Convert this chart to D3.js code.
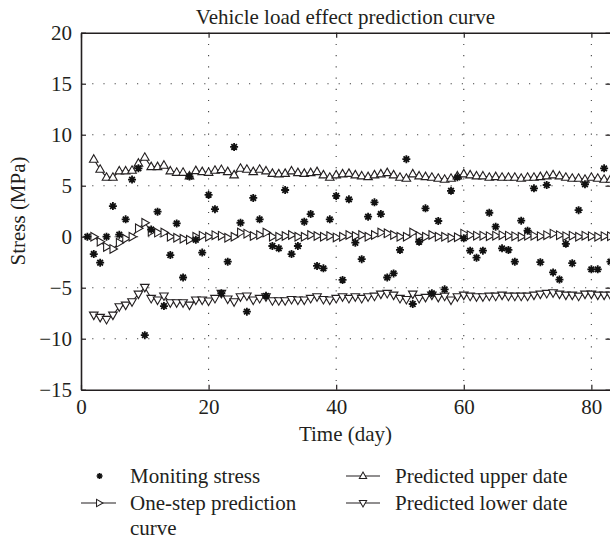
<!DOCTYPE html>
<html><head><meta charset="utf-8">
<script src="https://cdn.jsdelivr.net/npm/d3@7"></script>
<style>
html,body{margin:0;padding:0;background:#fff;}
svg{display:block;}
text{font-family:"Liberation Serif","Times New Roman",serif;fill:#231f20;}
</style></head>
<body>
<svg id="chart" width="610" height="541"></svg>
<script>
// ---- data ----
const stressStartDay = 1;
const predStartDay = 2;
const xTicks = [0, 20, 40, 60, 80];
const yTicks = [-15, -10, -5, 0, 5, 10, 15, 20];
const stress = [0.0,-1.7,-2.55,0.0,3.0,0.2,1.7,5.6,6.7,-9.65,0.7,2.45,-6.8,-1.8,1.3,-4.0,5.9,-0.3,-1.56,4.1,
  2.7,-5.55,-2.45,8.8,1.37,-7.35,3.8,1.7,-5.8,-0.91,-1.14,4.58,-1.7,-0.91,1.47,2.22,-2.87,-3.1,1.7,4.0,
  -4.24,3.66,-0.59,-2.2,1.96,3.37,2.22,-4.0,-3.6,-1.3,7.6,-6.6,-0.5,2.78,-5.55,1.54,-5.16,4.5,5.82,-0.16,
  -1.37,-2.06,-1.37,2.35,0.98,-1.14,-1.3,-2.45,1.57,0.59,4.74,-2.5,5.07,-3.5,-4.2,-0.7,-2.6,2.6,5.14,-3.2,
  -3.2,6.7,-2.45];
const upper = [7.59,6.6,5.82,5.82,6.44,6.44,6.5,7.2,7.78,6.86,6.86,7.0,6.44,6.3,6.3,5.95,6.47,6.37,6.3,6.5,
  6.57,6.37,6.05,6.7,6.6,6.37,6.6,6.44,6.2,6.15,6.2,6.44,6.27,6.2,6.27,6.37,6.05,5.82,6.05,6.15,
  6.2,6.05,5.95,5.88,6.05,6.15,6.27,6.05,5.82,5.72,6.15,5.95,5.88,5.82,5.72,5.62,5.72,5.95,6.15,6.05,
  5.95,5.95,5.82,5.88,5.82,5.82,5.82,5.72,5.82,5.82,5.88,5.95,6.05,5.95,5.82,5.72,5.72,5.62,5.82,5.72,
  5.62,5.62];
const oneStep = [0,-0.5,-1.0,-1.2,-0.6,-0.2,0.0,0.82,1.37,0.5,0.4,0.4,0.0,-0.1,-0.2,-0.3,0,0.1,0,0.15,
  0.1,-0.1,0,0.4,0.3,0.07,0.17,0.4,0,0,0.07,0.17,0,0,0.17,0.07,0,0.07,-0.07,0,
  0.17,0.07,0.17,0,0.17,0.4,0.33,0.17,0,0,0.4,0.07,0,0.17,0,0,-0.1,-0.05,0.3,0.15,
  0.1,0.1,0.05,0.1,0.15,0.1,0.05,0,0.1,0.1,0.05,0.15,0.3,0.15,0.05,0.1,0,0.1,0.05,0,
  0.05,0.05];
const lower = [-7.68,-7.9,-8.1,-7.68,-6.86,-6.7,-6.37,-5.62,-4.96,-6.04,-6.2,-5.8,-6.47,-6.47,-6.47,-6.7,-6.2,-6.2,-6.3,-6.04,
  -5.55,-6.1,-6.37,-5.88,-5.8,-6.2,-6.04,-5.88,-6.27,-6.27,-6.27,-6.14,-6.2,-6.2,-6.04,-5.88,-6.14,-6.2,-6.04,-5.88,
  -6.04,-5.88,-6.04,-5.88,-5.82,-5.62,-5.55,-5.72,-6.04,-6.14,-5.62,-6.04,-5.94,-5.72,-5.94,-5.82,-6.2,-5.88,-5.72,-5.82,
  -5.88,-5.88,-5.82,-5.82,-5.72,-5.82,-5.82,-5.82,-5.82,-5.72,-5.62,-5.55,-5.49,-5.62,-5.72,-5.72,-5.82,-5.62,-5.62,-5.72,
  -5.72,-5.72];
const legendLabels = ["Moniting stress","One-step prediction","curve","Predicted upper date","Predicted lower date"];

// ---- layout ----
const FS = "21px";
const svg = d3.select("#chart");
const L = 81, R = 610.5, T = 32.7, B = 389.7;
const x = d3.scaleLinear().domain([0, 83]).range([L, R]);
const y = d3.scaleLinear().domain([-15, 20]).range([B, T]);
const ink = "#231f20";

const toPts = (arr, start) => arr.map((v, i) => ({d: start + i, v}));
const sPts = toPts(stress, stressStartDay);
const uPts = toPts(upper, predStartDay);
const oPts = toPts(oneStep, predStartDay);
const lPts = toPts(lower, predStartDay);

// grid
const grid = svg.append("g").attr("stroke", "#444").attr("stroke-width", 1.1).attr("stroke-dasharray", "1.2,10");
grid.selectAll("line.v").data(xTicks.slice(1)).join("line")
  .attr("x1", d => x(d)).attr("x2", d => x(d)).attr("y1", T).attr("y2", B);
grid.selectAll("line.h").data(yTicks.slice(1, -1)).join("line")
  .attr("x1", L).attr("x2", R).attr("y1", d => y(d)).attr("y2", d => y(d));

// axes (ticks inward)
function styleAxis(g){ g.select(".domain").attr("stroke", ink).attr("stroke-width", 1.6);
  g.selectAll(".tick line").attr("stroke", ink).attr("stroke-width", 1.2);
  g.selectAll("text").style("font-size", FS).attr("fill", ink); }
svg.append("g").attr("transform", `translate(0,${B})`)
  .call(d3.axisBottom(x).tickValues(xTicks).tickSize(-5).tickSizeOuter(0).tickPadding(9).tickFormat(d3.format("d")))
  .call(styleAxis);
svg.append("g").attr("transform", `translate(0,${T})`)
  .call(d3.axisTop(x).tickValues(xTicks).tickSize(-5).tickSizeOuter(0).tickFormat(""))
  .call(styleAxis);
svg.append("g").attr("transform", `translate(${L},0)`)
  .call(d3.axisLeft(y).tickValues(yTicks).tickSize(-5).tickSizeOuter(0).tickPadding(9).tickFormat(d => d < 0 ? "\u2212" + Math.abs(d) : d))
  .call(styleAxis);
svg.append("g").attr("transform", `translate(${R},0)`)
  .call(d3.axisRight(y).tickValues(yTicks).tickSize(-5).tickSizeOuter(0).tickFormat(""))
  .call(styleAxis);

// series
const plot = svg.append("g");
const line = d3.line().x(p => x(p.d)).y(p => y(p.v));
[uPts, oPts, lPts].forEach(pts => plot.append("path").attr("d", line(pts))
  .attr("fill", "none").attr("stroke", ink).attr("stroke-width", 1.1));

const triUp = "M0,-4.6L4.3,2.9L-4.3,2.9Z";
const triDown = "M0,4.6L4.3,-2.9L-4.3,-2.9Z";
const triRight = "M4.6,0L-2.9,4.3L-2.9,-4.3Z";
const star = "M0,-4V4M-4,0H4M-2.8,-2.8L2.8,2.8M-2.8,2.8L2.8,-2.8";

function markers(pts, shape){
  plot.append("g").selectAll("path").data(pts).join("path")
    .attr("transform", p => `translate(${x(p.d)},${y(p.v)})`)
    .attr("d", shape).attr("fill", "#fff").attr("stroke", ink).attr("stroke-width", 1.1);
}
markers(uPts, triUp);
markers(oPts, triRight);
markers(lPts, triDown);
plot.append("g").selectAll("path").data(sPts).join("path")
  .attr("transform", p => `translate(${x(p.d)},${y(p.v)})`)
  .attr("d", star).attr("fill", "none").attr("stroke", "#111").attr("stroke-width", 1.8);

// title and axis labels
svg.append("text").attr("x", 345.5).attr("y", 24).attr("text-anchor", "middle")
  .style("font-size", FS).text("Vehicle load effect prediction curve");
svg.append("text").attr("x", 345.5).attr("y", 441).attr("text-anchor", "middle")
  .style("font-size", FS).text("Time (day)");
svg.append("text").attr("transform", "translate(25,211) rotate(-90)").attr("text-anchor", "middle")
  .style("font-size", FS).text("Stress (MPa)");

// legend
const lg = svg.append("g");
const lgText = (tx, ty, s) => lg.append("text").attr("x", tx).attr("y", ty).style("font-size", FS).text(s);
const r1 = 476, r2 = 503;
lg.append("path").attr("transform", `translate(99.6,${r1})`).attr("d", "M0,-3V3M-3,0H3M-2.1,-2.1L2.1,2.1M-2.1,2.1L2.1,-2.1")
  .attr("stroke", "#111").attr("stroke-width", 1.5).attr("fill", "none");
lgText(130, r1 + 7, legendLabels[0]);
lg.append("line").attr("x1", 81).attr("x2", 116).attr("y1", r2).attr("y2", r2).attr("stroke", ink).attr("stroke-width", 1.2);
lg.append("path").attr("transform", `translate(99,${r2}) scale(0.85)`).attr("d", triRight).attr("fill", "#fff").attr("stroke", ink).attr("stroke-width", 1.2);
lgText(130, r2 + 7, legendLabels[1]);
lgText(130, r2 + 32, legendLabels[2]);
lg.append("line").attr("x1", 346).attr("x2", 380).attr("y1", r1).attr("y2", r1).attr("stroke", ink).attr("stroke-width", 1.2);
lg.append("path").attr("transform", `translate(363,${r1}) scale(0.85)`).attr("d", triUp).attr("fill", "#fff").attr("stroke", ink).attr("stroke-width", 1.2);
lgText(395, r1 + 7, legendLabels[3]);
lg.append("line").attr("x1", 346).attr("x2", 380).attr("y1", r2).attr("y2", r2).attr("stroke", ink).attr("stroke-width", 1.2);
lg.append("path").attr("transform", `translate(363,${r2}) scale(0.85)`).attr("d", triDown).attr("fill", "#fff").attr("stroke", ink).attr("stroke-width", 1.2);
lgText(395, r2 + 7, legendLabels[4]);
</script>
</body></html>
